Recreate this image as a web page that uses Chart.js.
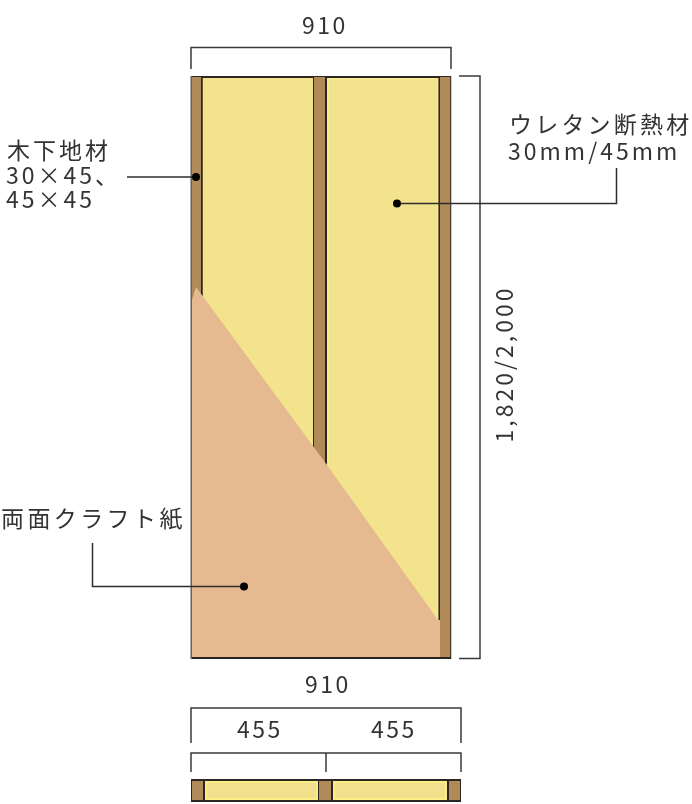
<!DOCTYPE html>
<html><head><meta charset="utf-8">
<style>html,body{margin:0;padding:0;background:#fff}canvas{display:block}</style>
<script src="https://cdn.jsdelivr.net/npm/chart.js@4"></script>
</head><body><canvas id="c" width="692" height="804"></canvas>
<script>
// Figure; each band = [xStart, xEnd, yTop, yBottom]
const frameBand = [[191,451.5,76,659]];
const woodBands = [[192,201,77,657],[314,325,77,657],[440,450.5,77,657]];
const yellowBands = [[202.5,313,78,657],[327,438.5,78,657]];
const paleEdges = [[327,329,78,657],[329,436.5,78,80],[436.5,438.5,78,657]];
const kraftOutline = [[192,300],[196,287],[327,465],[438,620],[440,620]];
const kraftFloor = 657;
const sectionFrame = [[191,461,779,802]];
const sectionWood = [[192,203,781,800],[319,331,781,800],[449,460,781,800]];
const sectionYellow = [[205,318,781,800],[333,447,781,800]];
const sectionCore = [[207,316,783,798],[335,445,783,798]];
const brackets = [
  [[191,69],[191,47.5],[451,47.5],[451,69]],
  [[459,76],[480,76],[480,658.5],[459,658.5]],
  [[191,743],[191,708],[461,708],[461,743]],
  [[191,772],[191,753],[461,753],[461,772]],
  [[326,753],[326,772]]
];
const leaders = [
  [[127,177],[196,177]],
  [[397,203.5],[616.5,203.5],[616.5,168]],
  [[92.5,543],[92.5,586.5],[244,586.5]]
];
const leaderDots = [[196,177],[397,203.5],[244,586.5]];
const labelTexts = ["910","木下地材","30×45、","45×45","ウレタン断熱材","30mm/45mm","両面クラフト紙","910","455","455"];
const labelX = [302,7,6,6,509,508,1,305,237,371];
const labelY = [25,150,175,199,124,151,518,684,729,729];
const labelGap = [2.5,3,3,3,3.2,3,3.4,2.5,2.5,2.5];
const sideLabel = "1,820/2,000";
const sideLabelAt = [504,364];

const band = (b,color) => ({type:'scatter',showLine:true,data:[{x:b[0],y:b[2]},{x:b[1],y:b[2]}],
  borderWidth:0,borderColor:'transparent',pointRadius:0,fill:{value:b[3]},backgroundColor:color});
const line = (pts,color,w) => ({type:'scatter',showLine:true,data:pts.map(p=>({x:p[0],y:p[1]})),
  borderColor:color,borderWidth:w,pointRadius:0,fill:false,tension:0,borderJoinStyle:'miter',borderCapStyle:'butt'});

const backToFront = [
  ...frameBand.map(b=>band(b,'#2b2622')),
  ...woodBands.map(b=>band(b,'#b08a58')),
  ...yellowBands.map(b=>band(b,'#f3e38c')),
  ...paleEdges.map(b=>band(b,'#f8ea8e')),
  {type:'scatter',showLine:true,data:kraftOutline.map(p=>({x:p[0],y:p[1]})),borderWidth:0,borderColor:'transparent',
   pointRadius:0,tension:0,fill:{value:kraftFloor},backgroundColor:'#e6ba90'},
  line([[191.2,76],[191.2,659]],'#6d6660',1.5),
  ...sectionFrame.map(b=>band(b,'#2b2622')),
  ...sectionWood.map(b=>band(b,'#b08a58')),
  ...sectionYellow.map(b=>band(b,'#fbee84')),
  ...sectionCore.map(b=>band(b,'#f3e08c')),
  ...brackets.map(p=>line(p,'#3a3a3a',1.5)),
  ...leaders.map(p=>line(p,'#2e2e2e',1.5)),
  {type:'scatter',data:leaderDots.map(p=>({x:p[0],y:p[1]})),pointRadius:4,pointBackgroundColor:'#000',pointBorderWidth:0,showLine:false}
];

const labelPlugin = {id:'labels',afterDatasetsDraw(chart){
  const {ctx,scales:{x,y}} = chart;
  ctx.save();
  ctx.fillStyle='#333';ctx.textBaseline='middle';ctx.textAlign='left';
  ctx.font='400 23px "Noto Sans CJK JP"';
  labelTexts.forEach((t,i)=>{
    ctx.letterSpacing=labelGap[i]+'px';
    ctx.fillText(t,x.getPixelForValue(labelX[i]),y.getPixelForValue(labelY[i]));
  });
  ctx.letterSpacing='3px';
  ctx.translate(x.getPixelForValue(sideLabelAt[0]),y.getPixelForValue(sideLabelAt[1]));
  ctx.rotate(-Math.PI/2);ctx.textAlign='center';
  ctx.fillText(sideLabel,0,0);
  ctx.restore();
}};

new Chart(document.getElementById('c'),{
  data:{datasets:backToFront.reverse()},
  options:{responsive:false,animation:false,devicePixelRatio:1,
    layout:{padding:0,autoPadding:false},
    plugins:{legend:{display:false},tooltip:{enabled:false},title:{display:false}},
    scales:{
      x:{type:'linear',min:0,max:692,display:false},
      y:{type:'linear',min:0,max:804,reverse:true,display:false}
    }},
  plugins:[labelPlugin]
});
</script></body></html>
